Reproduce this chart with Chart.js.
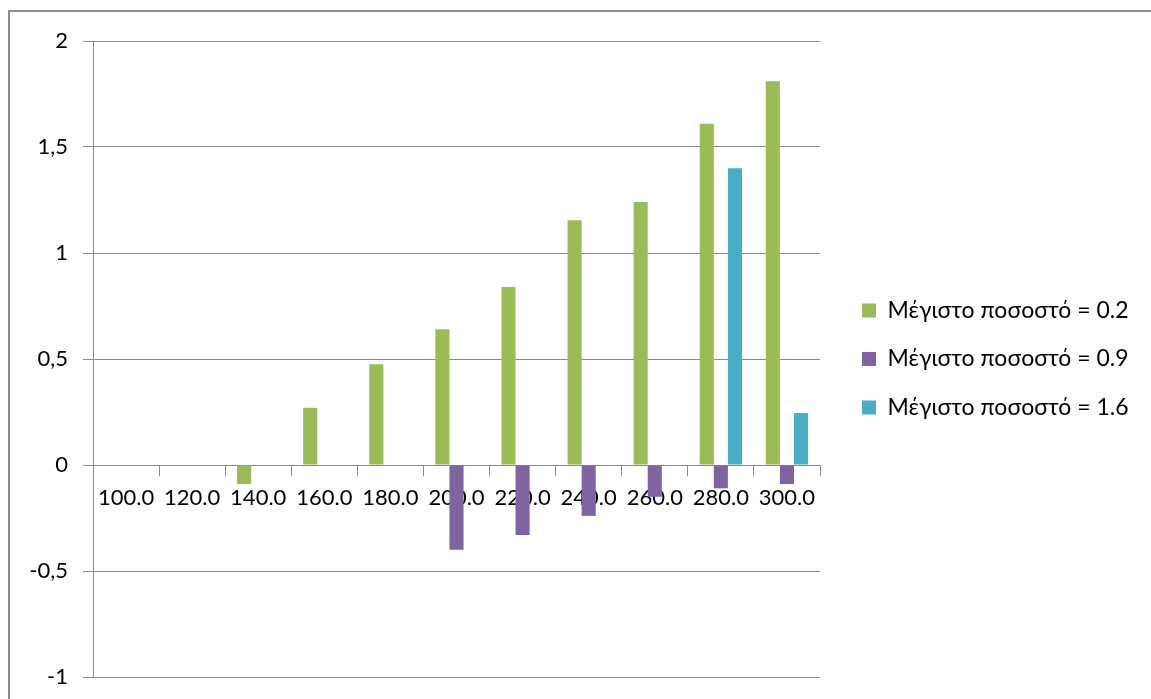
<!DOCTYPE html>
<html>
<head>
<meta charset="utf-8">
<title>Μέγιστο ποσοστό</title>
<script src="https://cdn.jsdelivr.net/npm/chart.js@4.4.1/dist/chart.umd.min.js"></script>
<style>
  html, body { margin: 0; padding: 0; background: #fff; }
  #wrap { position: relative; width: 1151px; height: 699px; overflow: hidden; }
  #frame { position: absolute; left: 8px; top: 10px; width: 1200px; height: 800px;
           border: 2px solid #8c8c8c; pointer-events: none; }
</style>
</head>
<body>
<div id="wrap">
  <canvas id="chart" width="1151" height="699"></canvas>
  <div id="frame"></div>
</div>
<script>
    // ==================== DATA ====================
    const categories = ['100.0', '120.0', '140.0', '160.0', '180.0', '200.0', '220.0', '240.0', '260.0', '280.0', '300.0'];
    const rate02 = [0, 0, -0.09, 0.27, 0.475, 0.64, 0.84, 1.155, 1.24, 1.61, 1.81];
    const rate09 = [0, 0, 0, 0, 0, -0.40, -0.33, -0.24, -0.15, -0.11, -0.09];
    const rate16 = [0, 0, 0, 0, 0, 0, 0, 0, 0, 1.40, 0.245];
    const seriesNames = ['Μέγιστο ποσοστό = 0.2', 'Μέγιστο ποσοστό = 0.9', 'Μέγιστο ποσοστό = 1.6'];
    const seriesColors = ['#9bbb59', '#8064a2', '#4bacc6'];
    const yMin = -1, yMax = 2, yStep = 0.5;

    // ==================== STYLE ====================
    const FONT = 'Lato';
    const gridColor = '#8a8a8a';
    const legendFont = { family: FONT, size: 23 };
    const legendPad = 25.5;
    const legendBox = 14;
    const plotLeft = 93;     // y axis line
    const plotRight = 820;   // end of gridlines
    const legendX = 862;     // left edge of the legend swatches

    // Legend takes everything right of the plot, swatches start at legendX
    const legendPlace = {
        id: 'legendPlace',
        afterInit(chart) {
            const legend = chart.legend;
            const fit = legend.fit;
            legend.fit = function () {
                fit.call(this);
                this.width = chart.width - plotRight;
            };
        },
        afterLayout(chart) {
            chart.legend.left = legendX - legendPad;
        }
    };

    const seriesData = [rate02, rate09, rate16];
    const datasets = seriesData.map((d, i) => ({
        label: seriesNames[i],
        data: d,
        backgroundColor: seriesColors[i],
        borderWidth: 0,
        categoryPercentage: 0.64,
        barPercentage: 1
    }));

    new Chart(document.getElementById('chart'), {
        type: 'bar',
        data: { labels: categories, datasets: datasets },
        plugins: [legendPlace],
        options: {
            responsive: false,
            animation: false,
            layout: { padding: { top: 41, bottom: 22, left: 0, right: 0 } },
            plugins: {
                tooltip: { enabled: false },
                legend: {
                    position: 'right',
                    labels: {
                        font: legendFont,
                        color: '#000',
                        boxWidth: legendBox,
                        boxHeight: legendBox,
                        padding: legendPad
                    }
                }
            },
            scales: {
                x: {
                    position: { y: 0 },
                    grid: {
                        display: true,
                        drawOnChartArea: false,
                        drawTicks: true,
                        tickLength: 10,
                        color: gridColor,
                        offset: true
                    },
                    border: { display: true, color: gridColor, width: 1 },
                    ticks: {
                        autoSkip: false,
                        maxRotation: 0,
                        minRotation: 0,
                        padding: 10,
                        color: '#000',
                        font: { family: FONT, size: 22 }
                    }
                },
                y: {
                    min: yMin,
                    max: yMax,
                    grid: { color: gridColor, tickLength: 10, drawTicks: true },
                    border: { display: true, color: gridColor, width: 1 },
                    ticks: {
                        stepSize: yStep,
                        padding: 15,
                        color: '#000',
                        font: { family: FONT, size: 22 },
                        callback: v => String(v).replace('.', ',')
                    },
                    afterFit: s => {
                        s.width = plotLeft;
                        // the layout padding already leaves room for the end labels
                        s.paddingTop = 0;
                        s.paddingBottom = 0;
                    }
                }
            }
        }
    });
</script>
</body>
</html>
